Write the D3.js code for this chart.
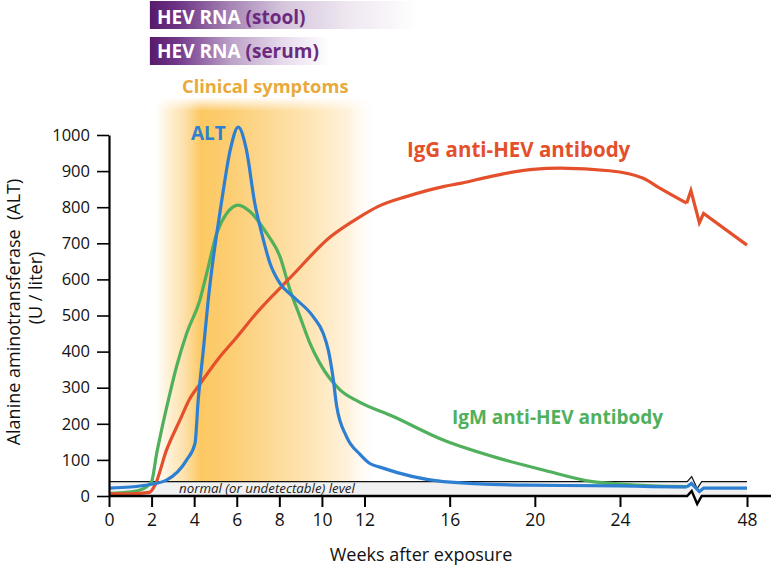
<!DOCTYPE html>
<html><head><meta charset="utf-8">
<script src="https://cdn.jsdelivr.net/npm/d3@7"></script>
<style>body{margin:0;background:#fff}svg{display:block;font-family:"Open Sans",sans-serif}</style>
</head><body><svg id="c" width="771" height="569"></svg>
<script>
// ---- data ----
const weeksALT = [0, 1, 1.92, 2.7, 3.65, 4.04, 4.19, 4.43, 4.66, 5.3, 5.7, 6.07, 6.45, 6.85, 7.17, 7.56, 8.03, 8.65, 9.59, 10.06, 10.3, 10.53, 10.69, 11.16, 11.78, 12.25, 12.72, 15.7, 19.6, 24, 30, 36.6, 37.5, 39.0, 39.8, 48];
const altValues = [22, 25, 32, 44, 100, 146, 266, 404, 543, 820, 960, 1022, 960, 810, 728, 645, 589, 552, 497, 451, 404, 325, 250, 164, 116, 90, 80, 40, 30, 28, 26, 25, 35, 12, 22, 22];

const weeksIgG = [0, 1, 1.9, 2.16, 2.7, 3.33, 3.8, 4.27, 5.2, 6.0, 6.9, 8.5, 10.4, 11.8, 12.6, 14, 15.7, 16.5, 18, 19.9, 21.2, 23.5, 28.4, 31.6, 36.6, 37.4, 39.0, 39.8, 48];
const igGValues = [6, 6, 10, 30, 127, 210, 270, 310, 385, 440, 505, 604, 718, 774, 801, 830, 857, 866, 886, 905, 908, 901, 880, 852, 811, 846, 757, 783, 695];

const weeksIgM = [0, 1.14, 1.77, 2.0, 2.24, 2.47, 2.79, 3.17, 3.65, 4.27, 4.59, 5.06, 5.53, 6.07, 6.62, 7.4, 8.03, 8.5, 8.97, 9.44, 9.9, 10.85, 11.7, 13.35, 15.7, 18.04, 20.4, 22.7, 24, 30, 36.6];
const igMValues = [7, 12, 26, 40, 118, 183, 266, 358, 451, 543, 617, 728, 783, 806, 788, 728, 663, 571, 497, 423, 368, 294, 262, 220, 155, 109, 72, 40, 33, 28, 26];

const xTicks = [0, 2, 4, 6, 8, 10, 12, 16, 20, 24, 48];
const yTicks = [0, 100, 200, 300, 400, 500, 600, 700, 800, 900, 1000];
const normalLevel = 40;
const breakWeek = 38.4;
const smoothUntil = 36.6;
const rnaStool = [1.92, 14.5];
const rnaSerum = [1.92, 10.4];
const clinicalSymptoms = [2.2, 12.6];
const clinicalFull = 4.3;

// ---- setup ----
const svg = d3.select('#c');
const x = d3.scaleLinear().domain([0, 24, 48]).range([109, 620, 747]);
const y = d3.scaleLinear().domain([0, 1000]).range([496, 135]);
const defs = svg.append('defs');

function grad(id, x1, x2, stops, vertical) {
  const g = defs.append('linearGradient').attr('id', id).attr('gradientUnits', 'userSpaceOnUse');
  if (vertical) g.attr('x1', 0).attr('x2', 0).attr('y1', x1).attr('y2', x2);
  else g.attr('x1', x1).attr('x2', x2).attr('y1', 0).attr('y2', 0);
  stops.forEach(s => g.append('stop').attr('offset', s[0]).attr('stop-color', s[1]).attr('stop-opacity', s[2] == null ? 1 : s[2]));
}

// RNA bars
grad('stoolG', x(rnaStool[0]), x(rnaStool[1]), [[0, '#581b6b'], [0.1, '#6c3283'], [0.3, '#a684b4'], [0.5, '#d6c6dd'], [0.75, '#efe8f1'], [1, '#ffffff']]);
grad('serumG', x(rnaSerum[0]), x(rnaSerum[1]), [[0, '#581b6b'], [0.15, '#72378a'], [0.45, '#bca2c8'], [0.75, '#e8dded'], [1, '#ffffff']]);
svg.append('rect').attr('x', x(rnaStool[0])).attr('y', 1).attr('width', x(rnaStool[1]) - x(rnaStool[0])).attr('height', 28).attr('fill', 'url(#stoolG)');
svg.append('rect').attr('x', x(rnaSerum[0])).attr('y', 37).attr('width', x(rnaSerum[1]) - x(rnaSerum[0])).attr('height', 28).attr('fill', 'url(#serumG)');
const t1 = svg.append('text').attr('x', 157).attr('y', 24).attr('font-size', 19).attr('font-weight', 700);
t1.append('tspan').attr('fill', '#fff').text('HEV RNA ');
t1.append('tspan').attr('fill', '#6c2a7e').text('(stool)');
const t2 = svg.append('text').attr('x', 157).attr('y', 58).attr('font-size', 19).attr('font-weight', 700);
t2.append('tspan').attr('fill', '#fff').text('HEV RNA ');
t2.append('tspan').attr('fill', '#6c2a7e').text('(serum)');

// clinical symptoms band
const c0 = x(clinicalSymptoms[0]), c1 = x(clinicalSymptoms[1]);
const fOff = (x(clinicalFull) - c0) / (c1 - c0);
grad('clinG', c0, c1, [[0, '#fcc865', 0], [fOff * 0.6, '#fcd07c', 0.6], [fOff, '#fcc862'], [fOff + 0.12, '#fccd70'], [0.5, '#fdd892'], [0.7, '#fee5b6'], [0.87, '#fff2dc'], [1, '#ffffff', 0]]);
grad('topFade', 97, 111, [[0, '#ffffff', 1], [1, '#ffffff', 0]], true);
svg.append('rect').attr('x', c0).attr('y', 98).attr('width', c1 - c0).attr('height', 496 - 98).attr('fill', 'url(#clinG)');
svg.append('rect').attr('x', c0).attr('y', 97).attr('width', c1 - c0).attr('height', 15).attr('fill', 'url(#topFade)');
svg.append('text').attr('x', 182).attr('y', 93).attr('font-size', 18.3).attr('font-weight', 700).attr('fill', '#e8aa3c').text('Clinical symptoms');

// normal level band with break
const bx = x(breakWeek);
const yn = y(normalLevel), y0 = y(0);
const bandPath = d3.path();
bandPath.moveTo(x(0), yn);
bandPath.lineTo(bx - 9, yn); bandPath.lineTo(bx - 4.5, yn - 5); bandPath.lineTo(bx + 1, yn + 7); bandPath.lineTo(bx + 5.5, yn);
bandPath.lineTo(x(48), yn); bandPath.lineTo(x(48), y0);
bandPath.lineTo(bx + 5.5, y0); bandPath.lineTo(bx + 1, y0 + 8); bandPath.lineTo(bx - 4.5, y0 - 5); bandPath.lineTo(bx - 9, y0);
bandPath.lineTo(x(0), y0); bandPath.closePath();
svg.append('path').attr('d', bandPath.toString()).attr('fill', '#f1f1f1');
const topLine = d3.path();
topLine.moveTo(x(0), yn); topLine.lineTo(bx - 9, yn); topLine.lineTo(bx - 4.5, yn - 5); topLine.lineTo(bx + 1, yn + 7); topLine.lineTo(bx + 5.5, yn); topLine.lineTo(x(48), yn);
svg.append('path').attr('d', topLine.toString()).attr('fill', 'none').attr('stroke', '#111').attr('stroke-width', 1.2);
svg.append('text').attr('x', 179).attr('y', 492.5).attr('font-size', 13.3).attr('font-style', 'italic').attr('fill', '#222').text('normal (or undetectable) level');

// series
function drawSeries(weeks, vals, color) {
  const pts = weeks.map((w, i) => [w, vals[i]]);
  const smooth = pts.filter(p => p[0] <= smoothUntil);
  const rough = pts.filter(p => p[0] >= smoothUntil);
  const l1 = d3.line().x(p => x(p[0])).y(p => y(p[1])).curve(d3.curveMonotoneX);
  const l2 = d3.line().x(p => x(p[0])).y(p => y(p[1]));
  svg.append('path').attr('d', l1(smooth)).attr('fill', 'none').attr('stroke', color).attr('stroke-width', 3.2).attr('stroke-linejoin', 'round');
  if (rough.length > 1) svg.append('path').attr('d', l2(rough)).attr('fill', 'none').attr('stroke', color).attr('stroke-width', 3.2).attr('stroke-linejoin', 'miter');
}
drawSeries(weeksIgM, igMValues, '#50b05c');
drawSeries(weeksIgG, igGValues, '#e4502b');
drawSeries(weeksALT, altValues, '#2d7fd2');

// axes
const xa = svg.append('g').attr('transform', `translate(0,${y0})`)
  .call(d3.axisBottom(x).tickValues(xTicks).tickSize(11).tickPadding(7).tickFormat(d3.format('d')));
xa.select('.domain').remove();
xa.selectAll('line').attr('stroke', '#000').attr('stroke-width', 2);
xa.selectAll('text').attr('font-size', 17.5).attr('fill', '#111').attr('font-family', '"Open Sans",sans-serif');
const axisLine = d3.path();
axisLine.moveTo(x(0), y0); axisLine.lineTo(bx - 9, y0); axisLine.lineTo(bx - 4.5, y0 - 5); axisLine.lineTo(bx + 1, y0 + 8); axisLine.lineTo(bx + 5.5, y0); axisLine.lineTo(771, y0);
svg.append('path').attr('d', axisLine.toString()).attr('fill', 'none').attr('stroke', '#000').attr('stroke-width', 2.4);

const ya = svg.append('g').attr('transform', `translate(${x(0)},0)`)
  .call(d3.axisLeft(y).tickValues(yTicks).tickSize(12).tickSizeOuter(0).tickPadding(7).tickFormat(d3.format('d')));
ya.select('.domain').attr('stroke', '#000').attr('stroke-width', 2.2);
ya.selectAll('line').attr('stroke', '#000').attr('stroke-width', 1.6);
ya.selectAll('text').attr('font-size', 16.5).attr('fill', '#111').attr('font-family', '"Open Sans",sans-serif');

svg.append('text').attr('x', 421).attr('y', 561).attr('text-anchor', 'middle').attr('font-size', 18).attr('fill', '#111').text('Weeks after exposure');
svg.append('text').attr('transform', 'translate(20,312) rotate(-90)').attr('text-anchor', 'middle').attr('font-size', 18).attr('fill', '#111').attr('xml:space', 'preserve').text('Alanine aminotransferase  (ALT)');
svg.append('text').attr('transform', 'translate(42,288) rotate(-90)').attr('text-anchor', 'middle').attr('font-size', 18).attr('fill', '#111').text('(U / liter)');

// series labels
svg.append('text').attr('x', 191).attr('y', 140).attr('font-size', 19).attr('font-weight', 700).attr('fill', '#2d7fd2').text('ALT');
svg.append('text').attr('x', 407).attr('y', 157).attr('font-size', 20.5).attr('font-weight', 700).attr('fill', '#e4502b').text('IgG anti-HEV antibody');
svg.append('text').attr('x', 452).attr('y', 424).attr('font-size', 19).attr('font-weight', 700).attr('fill', '#50b05c').text('IgM anti-HEV antibody');
</script></body></html>
